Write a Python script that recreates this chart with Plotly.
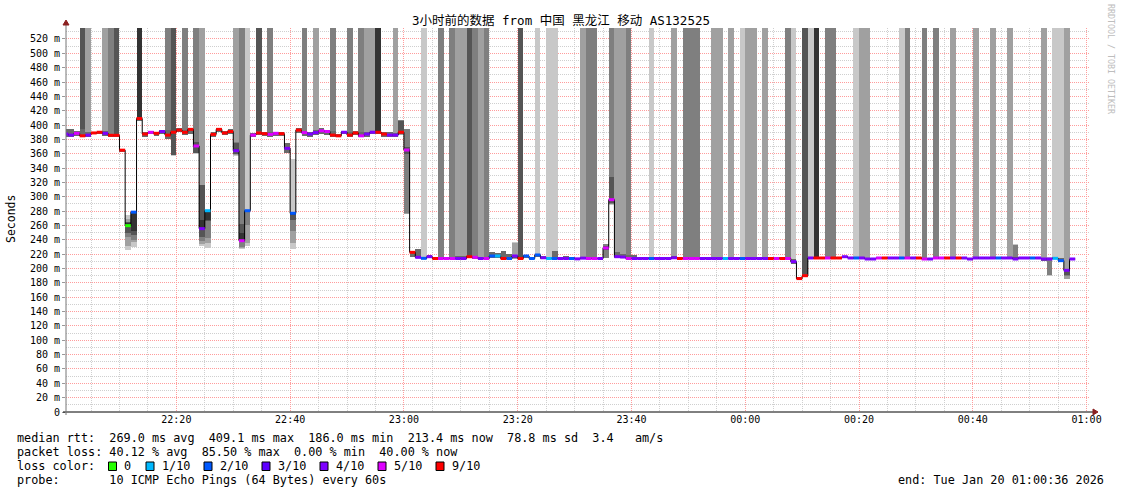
import plotly.graph_objects as go
from datetime import datetime, timedelta

# ---------------- data (one column per minute, starting 22:00) ----------------
median = [
    387.5, 386, 388.5, 385, 386, 389, 390, 388.5, 385.7, 385.7,
    365, 259.8, 278.6, 409.1, 387.5, 389.9, 388.5, 391, 386, 390,
    393, 389.9, 394, 370.8, 255.6, 280.6, 387, 394, 389, 391,
    364.3, 238.8, 280.6, 386, 389, 388, 387, 388.5, 388, 367.6,
    277, 393, 389.5, 387.5, 389.5, 392, 391, 386, 385, 390,
    386, 389, 385, 387.5, 390, 390, 387.5, 386, 386, 390,
    365.2, 222.6, 215.6, 214.2, 216.5, 214, 214, 214, 214, 214,
    214, 216.5, 215.6, 214, 214, 217.5, 217.5, 214, 214, 217.5,
    214, 217.5, 214, 218.9, 215, 214, 214, 214, 214, 214,
    213.5, 214.5, 214, 214, 214, 228.6, 296, 216.5, 216, 214,
    214, 214, 214, 214, 214, 214, 214, 215, 214, 214,
    214, 214, 214, 214, 214, 214, 214, 214, 214, 214,
    214, 214, 214, 214, 214, 214, 214, 214, 209.6, 186,
    190, 214.7, 214.7, 214.7, 214.7, 214.7, 214.7, 216.5, 214.7, 214.7,
    214.7, 213.3, 213.3, 214.7, 214.7, 214.7, 214.7, 214.7, 214.7, 214.7,
    214.7, 213.3, 213.3, 214.7, 214.7, 214.7, 214.7, 214.7, 214.7, 213.3,
    214.7, 214.7, 214.7, 214.7, 214.7, 214.7, 214.7, 213.3, 214.7, 214.7,
    214.7, 214.7, 213.3, 213.3, 214.2, 211, 197.5, 213.3,
]

# loss colour class: 0=0, 1=1/10, 2=2/10, 3=3/10, 4=4/10, 5=5/10, 6=9/10
loss = [
    4, 4, 5, 6, 4, 6, 6, 4, 6, 6,
    6, 0, 2, 6, 6, 5, 6, 4, 6, 6,
    6, 6, 6, 5, 4, 1, 6, 6, 6, 6,
    4, 5, 2, 5, 6, 6, 5, 5, 6, 4,
    2, 6, 5, 4, 4, 5, 5, 6, 6, 4,
    6, 6, 5, 4, 4, 6, 6, 4, 4, 6,
    5, 6, 4, 2, 4, 6, 5, 5, 5, 4,
    4, 6, 5, 4, 5, 2, 1, 6, 2, 4,
    6, 2, 2, 2, 4, 1, 2, 4, 4, 2,
    4, 4, 5, 5, 4, 5, 5, 4, 4, 5,
    4, 4, 4, 2, 4, 4, 4, 4, 6, 5,
    5, 5, 4, 4, 4, 4, 1, 4, 4, 2,
    4, 4, 4, 4, 6, 5, 6, 5, 4, 6,
    6, 4, 6, 6, 5, 6, 6, 4, 4, 2,
    4, 4, 4, 5, 6, 4, 4, 2, 5, 4,
    6, 5, 4, 5, 5, 6, 4, 6, 4, 4,
    4, 4, 4, 4, 2, 4, 4, 4, 4, 4,
    2, 4, 4, 4, 1, 2, 4, 4,
]

# smoke band around the median (ms); None = column described by its pings below
band_lo = [
    384, 383, 385, 383, 384, 387, 388, 385, 383, 384,
    362, None, None, 406, 384, 387, 385, 387, 380, None,
    390, 386, 388, None, None, None, 384, 391, 386, 388,
    None, None, None, 383, 386, 385, 384, 385, 385, 361,
    None, 389, 385, 384, 386, 388, 386, 384, 383, 387,
    384, 386, 384, 384, 387, 387, 384, 384, 384, None,
    None, 215.6, 214, 213, 214, 213, 213, 213, 213, 213,
    213, 214, 213, 213, 213, 214, 214, 213, 213, None,
    213, 215, 213, 216, 213, 213, 213, 213, 213, 213,
    212.5, 213, 213, 213, 213, None, None, 214, 214, 213,
    213, 213, 213, 213, 213, 213, 213, 213, 213, 213,
    213, 213, 213, 213, 213, 213, 213, 213, 213, 213,
    213, 213, 213, 213, 213, 213, 213, 213, 207, 185.5,
    188.5, 213, 213, 213, 213, 213, 213, 214, 213, 213,
    213, 212, 212, 213, 213, 213, 213, 213, 213, 213,
    213, 212, 212, 213, 213, 213, 213, 213, 213, 212,
    213, 213, 213, 213, 213, 213, 213, None, 213, 213,
    213, 213, 210, None, 213, 209, None, 212,
]
band_hi = [
    394, 394, 392, 395, 391, 391, 392, 392, 388, 388,
    367, None, None, 411, 391, 392, 391, 393, 393, None,
    396, 393, 396, None, None, None, 390, 396, 392, 394,
    None, None, None, 389, 392, 391, 391, 391, 390, 375,
    None, 396, 392, 391, 393, 396, 393, 392, 388, 392,
    390, 392, 391, 391, 392, 392, 390, 390, 389, None,
    None, 224, 227, 216, 219, 216, 216, 216, 216, 217,
    217, 218, 218, 216, 216, 222.6, 221, 224, 220, None,
    216, 219, 216, 220, 218, 216, 225, 216, 217, 216,
    215, 216, 216, 216, 215, None, None, 222.6, 220, 219,
    219, 216, 216, 216, 216, 216, 216, 217, 216, 216,
    216, 216, 216, 216, 216, 216, 216, 216, 216, 216,
    216, 216, 216, 216, 216, 216, 216, 216, 213, 188,
    192, 216, 216, 216, 216, 216, 216, 218, 216, 216,
    216, 215, 215, 216, 216, 216, 216, 216, 216, 216,
    216, 215, 215, 216, 216, 216, 216, 216, 216, 215,
    216, 216, 216, 216, 216, 216, 216, None, 216, 216,
    216, 216, 215, None, 216, 214, None, 214.5,
]

# shade of the smoke that runs off the top (lost pings): 0 none, 1 lightest .. 5 darkest
top_shade = [
    0, 0, 0, 4, 2, 0, 0, 2, 3, 4,
    0, 0, 0, 5, 0, 0, 0, 0, 3, 0,
    0, 3, 0, 0, 0, 0, 0, 0, 0, 0,
    0, 0, 0, 0, 4, 0, 3, 0, 0, 0,
    0, 0, 3, 0, 2, 0, 0, 3, 0, 0,
    3, 0, 3, 2, 2, 5, 0, 0, 2, 0,
    0, 0, 0, 1, 0, 0, 3, 0, 3, 2,
    2, 4, 3, 2, 3, 0, 0, 0, 0, 0,
    4, 0, 0, 1, 0, 1, 1, 0, 0, 0,
    0, 2, 3, 3, 0, 0, 0, 2, 2, 3,
    0, 0, 0, 1, 0, 0, 0, 2, 0, 3,
    3, 3, 0, 0, 2, 2, 0, 2, 0, 1,
    2, 2, 0, 2, 0, 0, 0, 3, 1, 0,
    4, 1, 5, 0, 3, 3, 0, 0, 0, 1,
    2, 2, 0, 0, 0, 0, 0, 1, 3, 0,
    0, 3, 0, 3, 0, 0, 2, 0, 0, 0,
    2, 0, 0, 2, 0, 0, 2, 0, 0, 0,
    0, 0, 2, 0, 1, 1, 0, 0,
]

# individual sorted pings for the columns with wide smoke (None = lost ping)
special_pings = {
    11: [226, 232, 243.5, 250, 259.5, 264, 264.3, 264.4, 269, 274.6],
    12: [230.5, 236.5, 240, 247, 252.8, 278.3, 278.5, 278.6, 278.7, 278.8],
    19: [357.5, 358, 358.5, 358.7, 389, 391, None, None, None, None],
    23: [360, 360.5, 361, 361.5, 370, 372, 376, None, None, None],
    24: [232, 234.5, 238, 244, 255.5, 268, 316, 316.5, None, None],
    25: [228, 236, 242, 266, 268, 280, 280.5, 280.6, 280.7, 281],
    30: [357, 358, 359, 360, 364, 366, 375, 376, None, None],
    31: [227, 228, 230, 237, 239, 249, 262, None, None, None],
    32: [232, 235, 260.7, 279, 280.3, 280.8, 281, 281.3, 281.6, None],
    40: [227, 236, 252, 268, 274, 278, 278.5, 279, 279.5, 352],
    59: [386, 386.5, 387, 387.5, 389, 391, 406, 406.5, 407, 407.2],
    60: [275.5, 276, 277, 360, 364, 366, 370, 394, 394.3, 394.5],
    79: [213, 213.5, 214, 215, 216, 217, 218, 219, 236, 236.5],
    95: [214, 214.5, 215, 226, 228, 229, 232, 234, 234.3, 234.5],
    96: [289, 289.5, 290, 291, 296, 297, 327, None, None, None],
    167: [212, 212.5, 213, 213.5, 214, 215, 216, 233, 233.5, 234],
    173: [190, 190.5, 191, 212, 213, 213.5, 214, 214.5, 215, 215.5],
    176: [185, 186, 190, 191, 196, 198, 199, 200, None, None],
}

y_ticks = list(range(0, 521, 20))
y_labels = ["0"] + [f"{v} m" for v in y_ticks[1:]]
x_tick_labels = ["22:20", "22:40", "23:00", "23:20", "23:40", "00:00", "00:20", "00:40", "01:00"]
loss_legend = ["0", "1/10", "2/10", "3/10", "4/10", "5/10", "9/10"]

# ---------------- styles ----------------
SHADES = ["#c8c8c8", "#a0a0a0", "#7f7f7f", "#555555", "#333333"]
LOSS_COLORS = ["#26ff00", "#00b8ff", "#0059ff", "#5e00ff", "#7e00ff", "#dd00ff", "#ff0000"]
MONO = "DejaVu Sans Mono"
TOP = 700.0

T0 = datetime(2026, 1, 19, 22, 0, 0)
N = len(median)
starts = [T0 + timedelta(minutes=i) for i in range(N)]
ends = [s + timedelta(minutes=1) for s in starts]
centers = [s + timedelta(seconds=30) for s in starts]
W_MS = 60000

fig = go.Figure()

# generic columns: band + smoke to the top
gen = [i for i in range(N) if i not in special_pings]
top_idx = [i for i in gen if top_shade[i] > 0]
fig.add_trace(go.Bar(
    x=[centers[i] for i in top_idx],
    base=[band_hi[i] for i in top_idx],
    y=[TOP - band_hi[i] for i in top_idx],
    width=W_MS, marker=dict(color=[SHADES[top_shade[i] - 1] for i in top_idx], line=dict(width=0)),
    hoverinfo="skip"))
fig.add_trace(go.Bar(
    x=[centers[i] for i in gen],
    base=[band_lo[i] for i in gen],
    y=[band_hi[i] - band_lo[i] for i in gen],
    width=W_MS, marker=dict(color="#6a6a6a", line=dict(width=0)),
    hoverinfo="skip"))

# special columns drawn SmokePing style: pair k = (ping k, ping 11-k)
for k in range(5):
    xs, bs, hs = [], [], []
    for i, p in special_pings.items():
        lo, hi = p[k], p[9 - k]
        if lo is None:
            continue
        if hi is None:
            hi = TOP
        xs.append(centers[i]); bs.append(lo); hs.append(hi - lo)
    fig.add_trace(go.Bar(x=xs, base=bs, y=hs, width=W_MS,
                         marker=dict(color=SHADES[k], line=dict(width=0)), hoverinfo="skip"))

# median step line (black, visible on the jumps)
fig.add_trace(go.Scatter(
    x=starts + [ends[-1]],
    y=median + [median[-1]],
    mode="lines", line=dict(color="black", width=1, shape="hv"), hoverinfo="skip"))

# loss coloured median segments, one trace per loss colour, drawn over the black line
for c, col in enumerate(LOSS_COLORS):
    xs, ys = [], []
    for i in range(N):
        if loss[i] == c:
            xs += [starts[i], ends[i], None]
            ys += [median[i], median[i], None]
    if xs:
        fig.add_trace(go.Scatter(x=xs, y=ys, mode="lines", line=dict(color=col, width=3),
                                 connectgaps=False, hoverinfo="skip"))

# ---------------- layout ----------------
L, R, T, B = 66, 31, 28, 82
WIDTH, HEIGHT = 1121, 494
PW, PH = WIDTH - L - R, HEIGHT - T - B


def px(x):
    return (x - L) / PW


def py(y):
    return (HEIGHT - B - y) / PH


x_tick_vals = [datetime(2026, 1, 19, 22, 20) + timedelta(minutes=20 * k) for k in range(9)]

fig.update_layout(
    width=WIDTH, height=HEIGHT,
    margin=dict(l=L, r=R, t=T, b=B),
    paper_bgcolor="white", plot_bgcolor="white",
    barmode="overlay", bargap=0, showlegend=False,
    xaxis=dict(
        type="date",
        range=[datetime(2026, 1, 19, 22, 0, 36), datetime(2026, 1, 20, 1, 0, 36)],
        tickmode="array", tickvals=x_tick_vals, ticktext=x_tick_labels,
        tickfont=dict(family=MONO, size=10, color="black"),
        ticks="", showline=False, zeroline=False,
        showgrid=True, gridcolor="#ff9c9c", gridwidth=1, griddash="1px,1px",
        minor=dict(tickmode="linear", tick0="2026-01-19 22:00:00", dtick=300000,
                   showgrid=True, gridcolor="#cfcfcf", gridwidth=1, griddash="1px,1px", ticks=""),
        fixedrange=True,
    ),
    yaxis=dict(
        range=[0, 535.3],
        tickmode="array", tickvals=y_ticks, ticktext=y_labels,
        tickfont=dict(family=MONO, size=10, color="black"),
        ticks="outside", ticklen=3, tickcolor="#999999",
        showline=False, zeroline=False,
        showgrid=True, gridcolor="#ff9c9c", gridwidth=1, griddash="1px,1px",
        minor=dict(tickmode="linear", tick0=0, dtick=10,
                   showgrid=True, gridcolor="#cfcfcf", gridwidth=1, griddash="1px,1px", ticks=""),
        fixedrange=True,
    ),
)

shapes = []
# axes with arrows
shapes.append(dict(type="line", xref="paper", yref="paper", x0=px(63), x1=px(1094), y0=0, y1=0,
                   line=dict(color="black", width=1)))
shapes.append(dict(type="path", xref="paper", yref="paper",
                   path=f"M {px(1093)},{py(409)} L {px(1098)},{py(412)} L {px(1093)},{py(415)} Z",
                   fillcolor="#8b2020", line=dict(color="#8b2020", width=1)))
shapes.append(dict(type="line", xref="paper", yref="paper", x0=0, x1=0, y0=py(415), y1=py(24),
                   line=dict(color="#777777", width=1)))
shapes.append(dict(type="path", xref="paper", yref="paper",
                   path=f"M {px(63)},{py(25)} L {px(66)},{py(20)} L {px(69)},{py(25)} Z",
                   fillcolor="#8b2020", line=dict(color="#8b2020", width=1)))

annotations = []
annotations.append(dict(text="3小时前的数据 from 中国 黑龙江 移动 AS132525",
                        x=px(561), y=py(21), xref="paper", yref="paper", showarrow=False,
                        xanchor="center", yanchor="middle",
                        font=dict(family=MONO + ", Noto Sans CJK SC", size=12.5, color="black")))
annotations.append(dict(text="Seconds", x=px(11), y=py(219), xref="paper", yref="paper",
                        showarrow=False, textangle=-90, xanchor="center", yanchor="middle",
                        font=dict(family=MONO, size=11.5, color="black")))
annotations.append(dict(text="RRDTOOL / TOBI OETIKER", x=px(1111), y=py(59), xref="paper", yref="paper",
                        showarrow=False, textangle=90, xanchor="center", yanchor="middle",
                        font=dict(family=MONO, size=8.3, color="#bdbdbd")))

NB = "\u00a0"
rows = [
    (438, "median rtt:  269.0 ms avg  409.1 ms max  186.0 ms min  213.4 ms now  78.8 ms sd  3.4   am/s"),
    (452, "packet loss: 40.12 % avg  85.50 % max  0.00 % min  40.00 % now"),
    (466, "loss color:"),
    (480, "probe:       10 ICMP Echo Pings (64 Bytes) every 60s"),
]
for yy, txt in rows:
    annotations.append(dict(text=txt.replace(" ", NB), x=px(16), y=py(yy), xref="paper", yref="paper",
                            showarrow=False, xanchor="left", yanchor="middle", borderpad=0,
                            font=dict(family=MONO, size=11.8, color="black")))
annotations.append(dict(text="end: Tue Jan 20 01:00:36 2026".replace(" ", NB), x=px(1105), y=py(480),
                        xref="paper", yref="paper", showarrow=False, xanchor="right", yanchor="middle",
                        borderpad=0, font=dict(family=MONO, size=11.8, color="black")))

box_x = [108.5, 146, 204, 262, 320, 378, 436]
for bx, col, lab in zip(box_x, LOSS_COLORS, loss_legend):
    shapes.append(dict(type="rect", xref="paper", yref="paper",
                       x0=px(bx), x1=px(bx + 8), y0=py(470.5), y1=py(462),
                       fillcolor=col, line=dict(color="black", width=1)))
    annotations.append(dict(text=lab, x=px(bx + 14.5), y=py(466), xref="paper", yref="paper",
                            showarrow=False, xanchor="left", yanchor="middle", borderpad=0,
                            font=dict(family=MONO, size=11.8, color="black")))

fig.update_layout(shapes=shapes, annotations=annotations)
fig.write_html("out.html", config={"displayModeBar": False, "staticPlot": True},
               post_script="document.body.style.margin='0';document.body.style.overflow='hidden';")
